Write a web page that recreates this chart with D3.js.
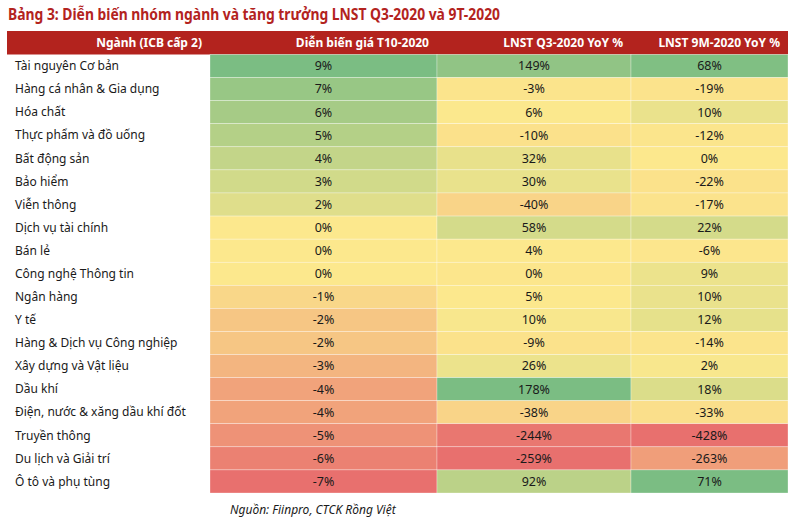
<!DOCTYPE html>
<html><head><meta charset="utf-8">
<script src="https://cdn.jsdelivr.net/npm/d3@7"></script>
<style>body{margin:0;background:#fff}</style>
</head><body>
<svg id="c" width="800" height="520"></svg>
<script>
const title = "Bảng 3: Diễn biến nhóm ngành và tăng trưởng LNST Q3-2020 và 9T-2020";
const headers = ["Ngành (ICB cấp 2)", "Diễn biến giá T10-2020", "LNST Q3-2020 YoY %", "LNST 9M-2020 YoY %"];
const sectors = ["Tài nguyên Cơ bản","Hàng cá nhân & Gia dụng","Hóa chất","Thực phẩm và đồ uống","Bất động sản","Bảo hiểm","Viễn thông","Dịch vụ tài chính","Bán lẻ","Công nghệ Thông tin","Ngân hàng","Y tế","Hàng & Dịch vụ Công nghiệp","Xây dựng và Vật liệu","Dầu khí","Điện, nước & xăng dầu khí đốt","Truyền thông","Du lịch và Giải trí","Ô tô và phụ tùng"];
const priceT10 = [9,7,6,5,4,3,2,0,0,0,-1,-2,-2,-3,-4,-4,-5,-6,-7];
const lnstQ3 = [149,-3,6,-10,32,30,-40,58,4,0,5,10,-9,26,178,-38,-244,-259,92];
const lnst9M = [68,-19,10,-12,0,-22,-17,22,-6,9,10,12,-14,2,18,-33,-428,-263,71];
const source = "Nguồn: Fiinpro, CTCK Rồng Việt";

const svg = d3.select("#c");
const font = "'Noto Sans', sans-serif";
const red = "#b3231e";
const colEdges = [7, 210, 437, 631, 788];
const tableTop = 31, headH = 23.5, tableBottom = 493;

svg.append("text").attr("x", 8).attr("y", 20).text(title)
  .attr("textLength", 492).attr("lengthAdjust", "spacingAndGlyphs")
  .attr("font-family", font).attr("font-weight", 700).attr("font-size", 16.5).attr("fill", red);

svg.append("rect").attr("x", colEdges[0]).attr("y", tableTop).attr("width", colEdges[4]-colEdges[0]).attr("height", headH).attr("fill", red);
headers.forEach((h,i)=>{
  svg.append("text").attr("x", colEdges[i+1]-8).attr("y", tableTop+headH/2).attr("dy","0.35em")
    .attr("text-anchor","end").attr("fill","#fff").attr("font-weight",700)
    .attr("font-family", font).attr("font-size", 12).text(h);
});

const y = d3.scaleBand().domain(sectors).range([tableTop+headH, tableBottom]).paddingInner(0);
const cols = [priceT10, lnstQ3, lnst9M];
const cGreen = "#7bbd83", cYellow = "#fce88d", cRed = "#e8706e";
cols.forEach((vals, ci)=>{
  const med = d3.median(vals);
  const color = d3.scaleLinear().domain([d3.min(vals), med, d3.max(vals)])
    .range([cRed, cYellow, cGreen]).interpolate(d3.interpolateRgb);
  const x0 = colEdges[ci+1], x1 = colEdges[ci+2];
  const g = svg.append("g");
  g.selectAll("rect").data(vals).join("rect")
    .attr("x", x0).attr("y", (d,i)=>y(sectors[i])).attr("width", x1-x0).attr("height", y.bandwidth())
    .attr("fill", d=>color(d)).attr("stroke","#fff").attr("stroke-width",0.5).attr("stroke-opacity",0.6);
  g.selectAll("text").data(vals).join("text")
    .attr("x", (x0+x1)/2).attr("y", (d,i)=>y(sectors[i])+y.bandwidth()/2).attr("dy","0.35em")
    .attr("text-anchor","middle").attr("font-family", font).attr("font-size", 12.5).attr("fill","#1a1a1a")
    .text(d=>d+"%");
});
svg.append("g").selectAll("text").data(sectors).join("text")
  .attr("x", 15).attr("y", d=>y(d)+y.bandwidth()/2).attr("dy","0.35em")
  .attr("font-family", font).attr("font-size", 12).attr("fill","#1a1a1a").text(d=>d);

svg.append("text").attr("x", 230).attr("y", 514).text(source)
  .attr("font-family", font).attr("font-style","italic").attr("font-size", 12).attr("fill","#1a1a1a");
</script>
</body></html>
